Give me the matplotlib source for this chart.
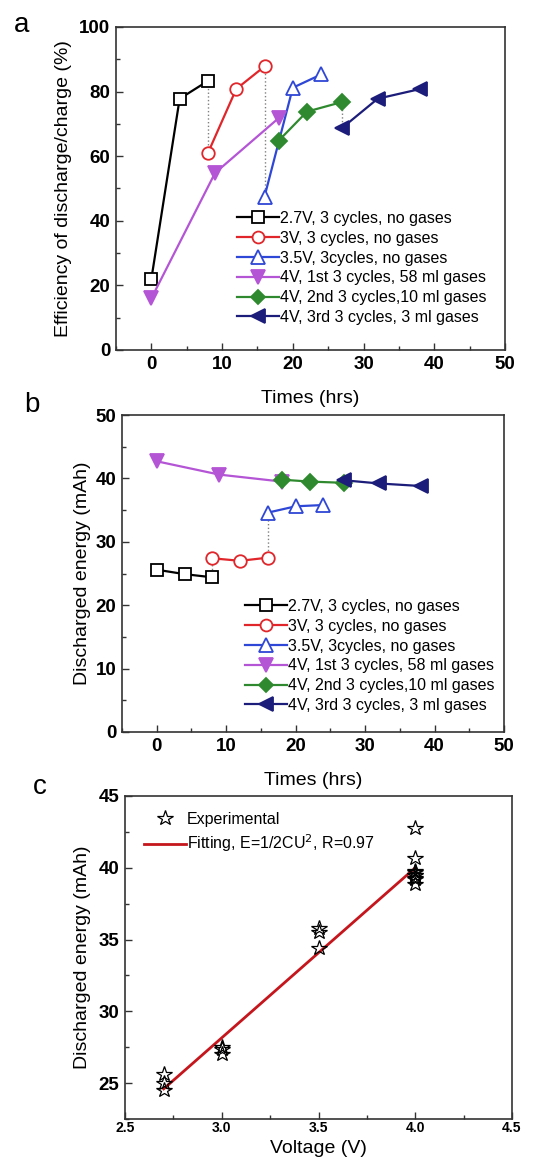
import matplotlib
matplotlib.use("Agg")
import matplotlib.pyplot as plt
from matplotlib.ticker import MultipleLocator

plt.rcParams['font.family'] = ['Liberation Sans', 'DejaVu Sans']

W, H = 541, 1169

# ---------------- data ----------------
labels = ["2.7V, 3 cycles, no gases", "3V, 3 cycles, no gases", "3.5V, 3cycles, no gases",
          "4V, 1st 3 cycles, 58 ml gases", "4V, 2nd 3 cycles,10 ml gases", "4V, 3rd 3 cycles, 3 ml gases"]

t_27 = [0, 4, 8]
t_30 = [8, 12, 16]
t_35 = [16, 20, 24]
t_4a = [0, 9, 18]
t_4b = [18, 22, 27]
t_4c = [27, 32, 38]

eff_27 = [22, 77.8, 83.3]
eff_30 = [61, 80.8, 87.8]
eff_35 = [47.5, 81.2, 85.3]
eff_4a = [16, 54.8, 71.8]
eff_4b = [64.8, 73.8, 76.8]
eff_4c = [68.8, 77.8, 80.8]

en_27 = [25.6, 24.9, 24.4]
en_30 = [27.4, 27.0, 27.5]
en_35 = [34.6, 35.6, 35.8]
en_4a = [42.7, 40.6, 39.5]
en_4b = [39.8, 39.5, 39.3]
en_4c = [39.7, 39.2, 38.8]

exp_v = [2.7, 2.7, 2.7, 3.0, 3.0, 3.0, 3.5, 3.5, 3.5, 4.0, 4.0, 4.0, 4.0, 4.0, 4.0, 4.0, 4.0, 4.0]
exp_e = [25.6, 25.0, 24.5, 27.5, 27.0, 27.4, 34.4, 35.5, 35.8, 42.8, 40.7, 39.5, 39.8, 39.5, 39.3, 39.7, 39.2, 38.9]
fit_v = [2.7, 4.0]
fit_e = [24.6, 40.0]

styles = [
    dict(color='black', marker='s', mfc='white', mec='black'),
    dict(color='#e0262a', marker='o', mfc='white', mec='#e0262a'),
    dict(color='#2f47d6', marker='^', mfc='white', mec='#2f47d6'),
    dict(color='#b455d6', marker='v', mfc='#b455d6', mec='#b455d6'),
    dict(color='#2f8a2f', marker='D', mfc='#2f8a2f', mec='#2f8a2f'),
    dict(color='#1c1c7a', marker='<', mfc='#1c1c7a', mec='#1c1c7a'),
]
msizes = [9, 9, 10, 10, 8, 10]

fig = plt.figure(figsize=(W / 100, H / 100), dpi=100)


def ax_rect(l, r, t, b):
    return [l / W, 1 - b / H, (r - l) / W, (b - t) / H]


def style_axes(ax):
    for s in ax.spines.values():
        s.set_color('#333333')
        s.set_linewidth(1.2)
    ax.tick_params(which='both', direction='in', top=False, right=False, color='#333333')
    ax.tick_params(which='major', length=5, width=1.0, labelsize=13.5, pad=4)
    ax.tick_params(which='minor', length=3, width=1.0)
    for lab in ax.get_xticklabels() + ax.get_yticklabels():
        lab.set_fontweight('bold')


def draw_series(ax, xs, ys):
    for x, y, st, ms, lab in zip(xs, ys, styles, msizes, labels):
        ax.plot(x, y, lw=1.6, ms=ms, mew=1.3, label=lab, zorder=3, **st)


def add_legend(ax, x0, y0):
    ax.legend(loc='upper left', bbox_to_anchor=(x0 / W, 1 - y0 / H),
              bbox_transform=fig.transFigure, frameon=False, fontsize=11.5,
              handlelength=2.6, handletextpad=0.1, labelspacing=0.3,
              borderpad=0, borderaxespad=0, markerscale=0.95)


times = [t_27, t_30, t_35, t_4a, t_4b, t_4c]

# ---------------- panel a ----------------
axa = fig.add_axes(ax_rect(116, 505, 27, 350))
axa.plot([t_27[-1], t_30[0]], [eff_27[-1], eff_30[0]], ls=':', color='gray', lw=1, zorder=1)
axa.plot([t_30[-1], t_35[0]], [eff_30[-1], eff_35[0]], ls=':', color='gray', lw=1, zorder=1)
axa.plot([t_4b[-1], t_4c[0]], [eff_4b[-1], eff_4c[0]], ls=':', color='gray', lw=1, zorder=1)
draw_series(axa, times, [eff_27, eff_30, eff_35, eff_4a, eff_4b, eff_4c])
axa.set_xlim(-5, 50)
axa.set_ylim(0, 100)
axa.xaxis.set_major_locator(MultipleLocator(10))
axa.xaxis.set_minor_locator(MultipleLocator(5))
axa.yaxis.set_major_locator(MultipleLocator(20))
axa.yaxis.set_minor_locator(MultipleLocator(10))
style_axes(axa)
axa.set_xlabel("Times (hrs)", fontsize=14)
axa.xaxis.set_label_coords(0.5, -0.123)
axa.set_ylabel("Efficiency of discharge/charge (%)", fontsize=14)
axa.yaxis.set_label_coords(-0.112, 0.5)
add_legend(axa, 237, 211)

# ---------------- panel b ----------------
axb = fig.add_axes(ax_rect(122, 504, 415, 732))
axb.plot([t_27[-1], t_30[0]], [en_27[-1], en_30[0]], ls=':', color='gray', lw=1, zorder=1)
axb.plot([t_30[-1], t_35[0]], [en_30[-1], en_35[0]], ls=':', color='gray', lw=1, zorder=1)
draw_series(axb, times, [en_27, en_30, en_35, en_4a, en_4b, en_4c])
axb.set_xlim(-5, 50)
axb.set_ylim(0, 50)
axb.xaxis.set_major_locator(MultipleLocator(10))
axb.xaxis.set_minor_locator(MultipleLocator(5))
axb.yaxis.set_major_locator(MultipleLocator(10))
axb.yaxis.set_minor_locator(MultipleLocator(5))
style_axes(axb)
axb.set_xlabel("Times (hrs)", fontsize=14)
axb.xaxis.set_label_coords(0.5, -0.125)
axb.set_ylabel("Discharged energy (mAh)", fontsize=14)
axb.yaxis.set_label_coords(-0.081, 0.5)
add_legend(axb, 245, 599)

# ---------------- panel c ----------------
axc = fig.add_axes(ax_rect(125, 512, 796, 1119))
axc.plot(exp_v, exp_e, ls='none', marker='*', ms=11.5, mfc='none', mec='black', mew=0.9,
         label='Experimental', zorder=3)
axc.plot(fit_v, fit_e, color='#c4161c', lw=2.0, label='Fitting, E=1/2CU$^{2}$, R=0.97', zorder=2)
axc.set_xlim(2.5, 4.5)
axc.set_ylim(22.5, 45)
axc.xaxis.set_major_locator(MultipleLocator(0.5))
axc.xaxis.set_minor_locator(MultipleLocator(0.25))
axc.yaxis.set_major_locator(MultipleLocator(5))
axc.yaxis.set_minor_locator(MultipleLocator(2.5))
style_axes(axc)
axc.tick_params(axis='x', which='major', labelsize=10, pad=1.5)
for lab in axc.get_xticklabels():
    lab.set_fontweight('bold')
axc.set_xlabel("Voltage (V)", fontsize=14)
axc.xaxis.set_label_coords(0.5, -0.064)
axc.set_ylabel("Discharged energy (mAh)", fontsize=14)
axc.yaxis.set_label_coords(-0.088, 0.5)
axc.legend(loc='upper left', bbox_to_anchor=(144 / W, 1 - 812 / H),
           bbox_transform=fig.transFigure, frameon=False, fontsize=11.5,
           handlelength=2.6, handletextpad=0.1, labelspacing=0.35,
           borderpad=0, borderaxespad=0)

# panel letters
fig.text(22 / W, 1 - 25 / H, "a", fontsize=20, ha='center', va='center')
fig.text(32 / W, 1 - 405 / H, "b", fontsize=20, ha='center', va='center')
fig.text(40 / W, 1 - 787 / H, "c", fontsize=20, ha='center', va='center')

fig.savefig("out.png", dpi=100)
